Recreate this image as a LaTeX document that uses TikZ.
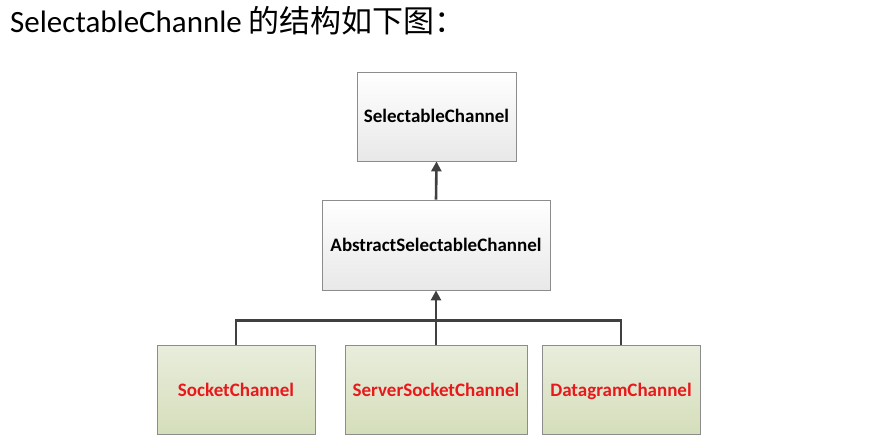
\documentclass[tikz,border=0pt]{standalone}
\usepackage{fontspec}
\setmainfont{Carlito}
\newfontfamily\cjk{Noto Sans CJK SC}
\usetikzlibrary{arrows.meta,positioning,shadows}
\definecolor{boxline}{HTML}{8C8C8C}
\definecolor{linkgray}{HTML}{404040}
\definecolor{leaftop}{HTML}{E9EDDC}
\definecolor{leafbot}{HTML}{D5DEBB}
\definecolor{leafred}{HTML}{E8191C}
\begin{document}
\begin{tikzpicture}[x=1pt,y=-1pt,font=\bfseries\fontsize{19}{22}\selectfont,
  classbox/.style={draw=boxline,line width=0.8pt,top color=white,bottom color=black!9,
    minimum height=89pt,inner sep=0pt,text height=13pt,text depth=0pt,
    drop shadow={opacity=0.25,shadow xshift=1.2pt,shadow yshift=-1.2pt}},
  leafbox/.style={classbox,top color=leaftop,bottom color=leafbot,text=leafred,
    minimum width=158pt},
  link/.style={draw=linkgray,line width=2.6pt},
  up/.style={link,-{Triangle[length=10pt,width=10pt]}}]
  \useasboundingbox (0,0) rectangle (874,438);
  \node[anchor=base west,font=\fontsize{31}{34}\selectfont,inner sep=0pt] (title) at (10,33)
    {SelectableChannle {\cjk 的结构如下图：}};
  % class hierarchy
  \node[classbox,minimum width=159pt] (sel) at (436.5,116.5) {SelectableChannel};
  \node[classbox,minimum width=228pt,minimum height=90pt] (abs) at (436,245) {AbstractSelectableChannel};
  \node[leafbox] (sock) at (236,389.5) {SocketChannel};
  \node[leafbox,minimum width=182pt] (serv) at (436,389.5) {ServerSocketChannel};
  \node[leafbox] (dgram) at (621,389.5) {DatagramChannel};
  % connectors
  \draw[link] (sock.north) -- ++(0,-24) -| (dgram.north);
  \draw[up] (serv.north) -- (abs.south);
  \draw[up] (abs.north) -- (sel.south);
\end{tikzpicture}
\end{document}
